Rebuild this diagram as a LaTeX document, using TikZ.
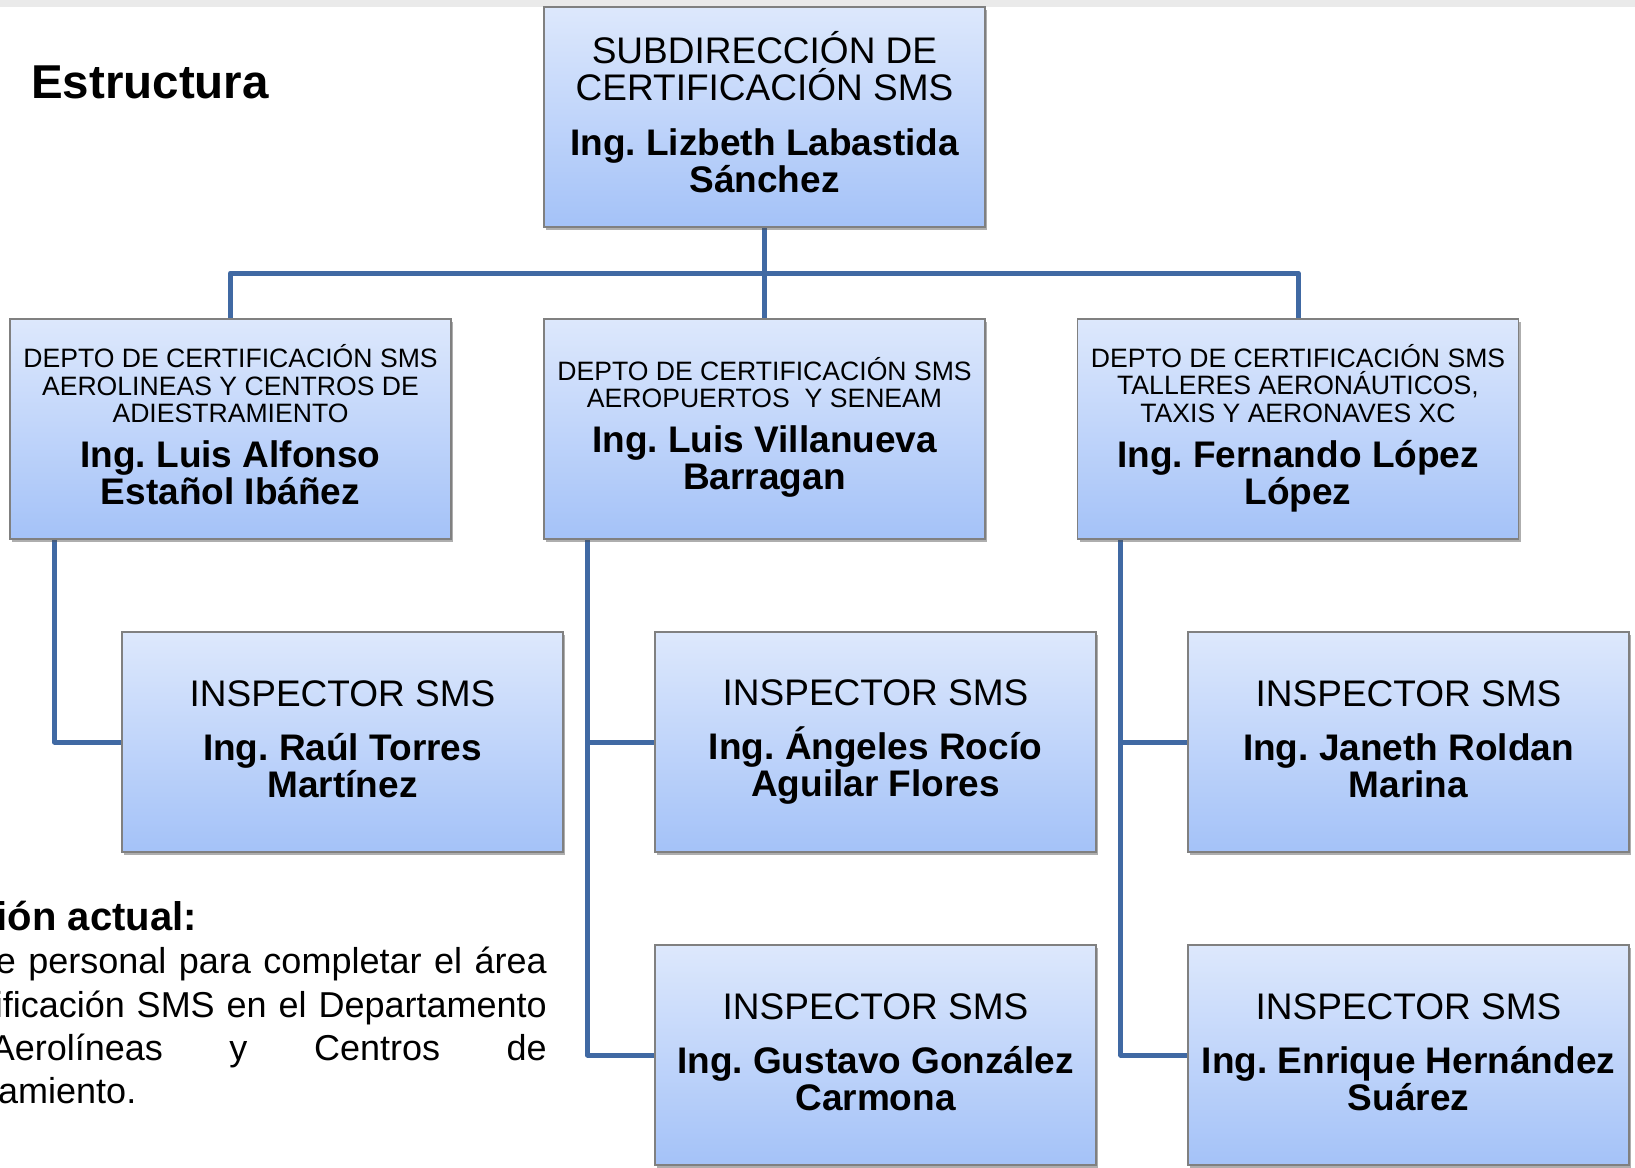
\documentclass[tikz,border=0pt]{standalone}
\usepackage{fontspec}
\setmainfont{Liberation Sans}
\usetikzlibrary{shadows,backgrounds}
\setlength{\parindent}{0pt}

\definecolor{boxtop}{HTML}{DDE8FC}
\definecolor{boxbottom}{HTML}{A4C2F8}
\definecolor{boxedge}{HTML}{808080}
\definecolor{linkblue}{HTML}{4069A3}
\definecolor{bandgray}{HTML}{EAEAEA}

% fixed word spaces (align=center sets them from the 10pt font)
\newcommand{\fixspace}{\spaceskip=.2778em\relax\xspaceskip=.2778em\relax}
\newcommand{\orgtitle}{\fontsize{37}{37.5}\selectfont\fixspace}
\newcommand{\orgdept}{\fontsize{26.6}{27.6}\selectfont\fixspace}
\newcommand{\orgname}{\fontsize{37}{37}\selectfont\bfseries\fixspace}
\newcommand{\orgbody}{\fontsize{36}{43.5}\selectfont}
\newcommand{\padbelow}[1]{\par\vspace{#1}\nointerlineskip\hbox{}}

\tikzset{
  orgbox/.style={draw=boxedge, line width=1.2pt, top color=boxtop, bottom color=boxbottom,
    minimum width=441pt, minimum height=220pt, text width=435pt, align=center, inner sep=0pt,
    drop shadow={shadow xshift=2pt, shadow yshift=-2.5pt, opacity=0.45, fill=black!70}},
  link/.style={draw=linkblue, line width=5pt, line join=round},
  plain/.style={inner sep=0pt}
}

\begin{document}
\begin{tikzpicture}[x=1pt,y=-1pt]
  \useasboundingbox (0,0) rectangle (1635,1167);

  \node[plain, anchor=base west, font=\fontsize{47.5}{48}\selectfont\bfseries] (title) at (31,98) {Estructura};

  % boxes
  \node[orgbox] (S) at (764.5,117)
    {{\orgtitle SUBDIRECCIÓN DE\\CERTIFICACIÓN SMS\par}\vspace{17.5pt}{\orgname Ing. Lizbeth Labastida\\Sánchez\par}\padbelow{10.5pt}};

  \node[orgbox] (D1) at (230.5,429)
    {{\orgdept DEPTO DE CERTIFICACIÓN SMS\\AEROLINEAS Y CENTROS DE\\ADIESTRAMIENTO\par}\vspace{8pt}{\orgname Ing. Luis Alfonso\\Estañol Ibáñez\par}\padbelow{8.5pt}};
  \node[orgbox] (D2) at (764.5,429)
    {{\orgdept DEPTO DE CERTIFICACIÓN SMS\\AEROPUERTOS\ \ Y SENEAM\par}\vspace{8pt}{\orgname Ing. Luis Villanueva\\Barragan\par}\padbelow{3pt}};
  \node[orgbox] (D3) at (1298,429)
    {{\orgdept DEPTO DE CERTIFICACIÓN SMS\\TALLERES AERONÁUTICOS,\\TAXIS Y AERONAVES XC\par}\vspace{8pt}{\orgname Ing. Fernando López\\López\par}\padbelow{2pt}};

  \node[orgbox] (I1) at (342.5,742)
    {{\orgtitle INSPECTOR SMS\par}\vspace{17pt}{\orgname Ing. Raúl Torres\\Martínez\par}\padbelow{5pt}};
  \node[orgbox] (I2) at (875.5,742)
    {{\orgtitle INSPECTOR SMS\par}\vspace{17pt}{\orgname Ing. Ángeles Rocío\\Aguilar Flores\par}};
  \node[orgbox] (I3) at (1408.5,742)
    {{\orgtitle INSPECTOR SMS\par}\vspace{17pt}{\orgname Ing. Janeth Roldan\\Marina\par}\padbelow{5pt}};
  \node[orgbox] (I4) at (875.5,1055)
    {{\orgtitle INSPECTOR SMS\par}\vspace{17pt}{\orgname Ing. Gustavo González\\Carmona\par}\padbelow{5pt}};
  \node[orgbox] (I5) at (1408.5,1055)
    {{\orgtitle INSPECTOR SMS\par}\vspace{17pt}{\orgname Ing. Enrique Hernández\\Suárez\par}\padbelow{5pt}};

  % text cut at the left edge
  \node[plain, anchor=base east, font=\fontsize{40}{40}\selectfont\bfseries] (sit) at (197,930) {ión actual:};
  \node[plain, anchor=base east, font=\orgbody] (txt1) at (547,973) {\makebox[551pt][s]{e personal para completar el área}};
  \node[plain, anchor=base east, font=\orgbody] (txt2) at (547,1017) {\makebox[552pt][s]{ificación SMS en el Departamento}};
  \node[plain, anchor=base east, font=\orgbody] (txt3) at (547,1060) {\makebox[556pt][s]{Aerolíneas y Centros de}};
  \node[plain, anchor=base west, font=\orgbody] (txt4) at (-2,1103) {amiento.};

  \begin{scope}[on background layer]
    \fill[white] (0,0) rectangle (1635,1167);
    \fill[bandgray] (0,0) rectangle (1635,7);

    \coordinate (B) at (0,273);
    \coordinate (T1) at ([xshift=45pt]D1.south west);
    \coordinate (T2) at ([xshift=44pt]D2.south west);
    \coordinate (T3) at ([xshift=44pt]D3.south west);

    \draw[link] (S.south) -- (D2.north);
    \draw[link] (D1.north) -- (D1.north |- B) -- (D3.north |- B) -- (D3.north);

    \draw[link] (T1) |- (I1.west);
    \draw[link] (T2) |- (I4.west);
    \draw[link] (I2.west -| T2) -- (I2.west);
    \draw[link] (T3) |- (I5.west);
    \draw[link] (I3.west -| T3) -- (I3.west);
  \end{scope}
\end{tikzpicture}
\end{document}
